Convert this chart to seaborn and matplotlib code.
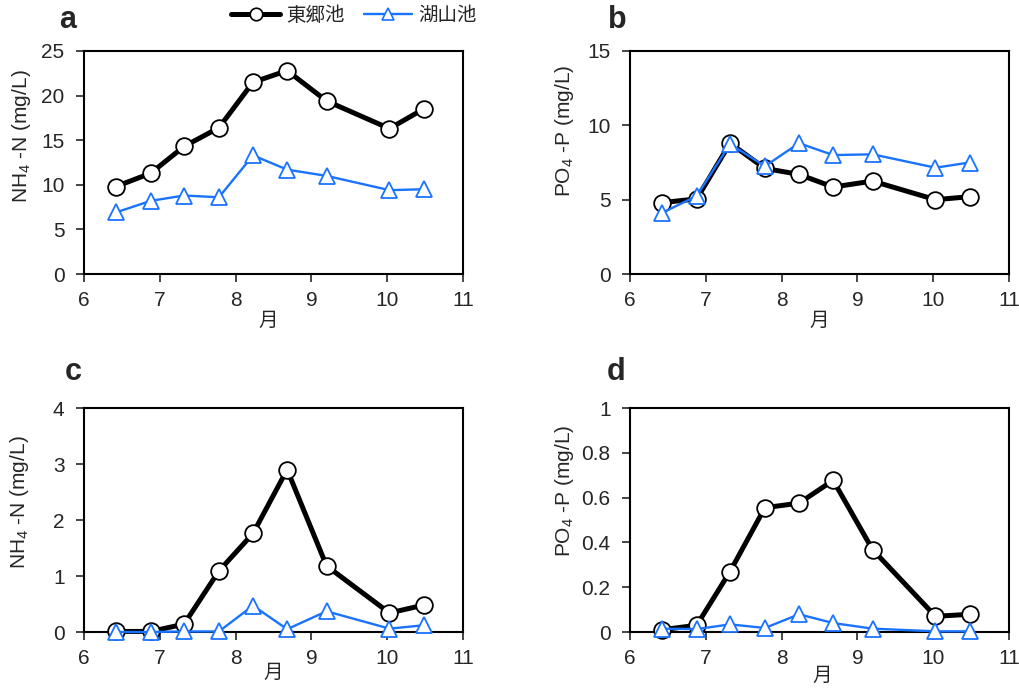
import numpy as np
import pandas as pd
import matplotlib
matplotlib.use("Agg")
import matplotlib.pyplot as plt
from matplotlib.lines import Line2D
import seaborn as sns

# sampling dates (month, fractional)
month = [6.42, 6.88, 7.32, 7.78, 8.23, 8.68, 9.20, 10.03, 10.48]

series_names = ["東郷池", "湖山池"]

# a: NH4-N surface
nh4_a_togo = [9.8, 11.3, 14.3, 16.4, 21.5, 22.8, 19.4, 16.3, 18.5]
nh4_a_koyama = [6.9, 8.2, 8.8, 8.6, 13.3, 11.7, 11.0, 9.4, 9.5]

# b: PO4-P surface
po4_b_togo = [4.8, 5.05, 8.8, 7.1, 6.7, 5.85, 6.25, 5.0, 5.2]
po4_b_koyama = [4.1, 5.25, 8.75, 7.25, 8.8, 8.0, 8.05, 7.15, 7.5]

# c: NH4-N
nh4_c_togo = [0.01, 0.01, 0.14, 1.09, 1.76, 2.90, 1.18, 0.34, 0.48]
nh4_c_koyama = [0.0, 0.0, 0.01, 0.01, 0.47, 0.05, 0.37, 0.06, 0.12]

# d: PO4-P
po4_d_togo = [0.01, 0.03, 0.27, 0.555, 0.575, 0.677, 0.368, 0.07, 0.079]
po4_d_koyama = [0.015, 0.013, 0.034, 0.018, 0.079, 0.04, 0.015, 0.003, 0.003]

panel_labels = ["a", "b", "c", "d"]
ylabels = [r"NH$_4$ -N (mg/L)", r"PO$_4$ -P (mg/L)", r"NH$_4$ -N (mg/L)", r"PO$_4$ -P (mg/L)"]
ylims = [(0, 25), (0, 15), (0, 4), (0, 1)]
yticks = [[0, 5, 10, 15, 20, 25], [0, 5, 10, 15], [0, 1, 2, 3, 4], [0, 0.2, 0.4, 0.6, 0.8, 1]]
yticklabels = [None, None, None, ["0", "0.2", "0.4", "0.6", "0.8", "1"]]
xticks = [6, 7, 8, 9, 10, 11]

sns.set_style("white")
plt.rcParams["font.family"] = ["Liberation Sans", "Noto Sans CJK JP", "DejaVu Sans"]
plt.rcParams["mathtext.fontset"] = "custom"
plt.rcParams["mathtext.rm"] = "Liberation Sans"
plt.rcParams["mathtext.it"] = "Liberation Sans:italic"

BLUE = "#1a73ff"

data = [
    (nh4_a_togo, nh4_a_koyama),
    (po4_b_togo, po4_b_koyama),
    (nh4_c_togo, nh4_c_koyama),
    (po4_d_togo, po4_d_koyama),
]

fig = plt.figure(figsize=(10.2, 6.9), dpi=100)
W, H = 1020, 690
# layout in pixels
boxes = [(84, 51, 463, 274), (630, 51, 1009, 274),
         (84, 408, 463, 632), (630, 408, 1009, 632)]
label_pos = [(68, 20), (617, 20), (73, 372), (616, 372)]
ylab_pos = [(33, 136), (576, 131), (31, 502), (576, 491)]   # right edge x, centre y
xlab_pos = [(268, 313), (819, 313), (273, 665), (822, 668)]  # centre x, top y

for i, (togo, koyama) in enumerate(data):
    l, t, r, b = boxes[i]
    ax = fig.add_axes([l / W, 1 - b / H, (r - l) / W, (b - t) / H])
    df = pd.DataFrame({"月": month, series_names[0]: togo, series_names[1]: koyama})
    sns.lineplot(data=df, x="月", y=series_names[0], ax=ax, color="black",
                 linewidth=3.6, marker="o", markersize=12,
                 markerfacecolor="white", markeredgecolor="black",
                 markeredgewidth=1.3, sort=False, zorder=3)
    sns.lineplot(data=df, x="月", y=series_names[1], ax=ax, color=BLUE,
                 linewidth=1.7, marker="^", markersize=12,
                 markerfacecolor="white", markeredgecolor=BLUE,
                 markeredgewidth=1.3, sort=False, zorder=4)
    for m in ax.lines:
        m.set_clip_on(False)
    ax.set_xlim(6, 11)
    ax.set_ylim(*ylims[i])
    ax.set_xticks(xticks)
    ax.set_yticks(yticks[i])
    if yticklabels[i] is not None:
        ax.set_yticklabels(yticklabels[i])
    ax.set_xlabel("月", fontsize=14)
    ax.set_ylabel(ylabels[i], fontsize=15)
    ax.xaxis.set_label_coords((xlab_pos[i][0] - l) / (r - l), (b - xlab_pos[i][1]) / (b - t))
    ax.yaxis.set_label_coords((ylab_pos[i][0] - l) / (r - l), (b - ylab_pos[i][1]) / (b - t))
    ax.tick_params(axis="both", which="major", direction="out", length=6,
                   width=1.2, labelsize=15, left=True, bottom=True)
    ax.tick_params(axis="y", pad=8)
    ax.tick_params(axis="x", pad=6)
    for s in ax.spines.values():
        s.set_color("black")
        s.set_linewidth(1.5)
    fig.text(label_pos[i][0] / W, 1 - label_pos[i][1] / H, panel_labels[i],
             fontsize=22, fontweight="bold", ha="center", va="center")

handles = [
    Line2D([], [], color="black", linewidth=3.6, marker="o", markersize=9,
           markerfacecolor="white", markeredgecolor="black", markeredgewidth=1.2),
    Line2D([], [], color=BLUE, linewidth=1.7, marker="^", markersize=9,
           markerfacecolor="white", markeredgecolor=BLUE, markeredgewidth=1.2),
]
fig.legend(handles, series_names, loc="center", bbox_to_anchor=(354 / W, 1 - 16 / H),
           ncol=2, frameon=False, fontsize=14, handlelength=2.5, handletextpad=0.3,
           columnspacing=1.0, borderaxespad=0, borderpad=0)

fig.savefig("out.png", dpi=100)
